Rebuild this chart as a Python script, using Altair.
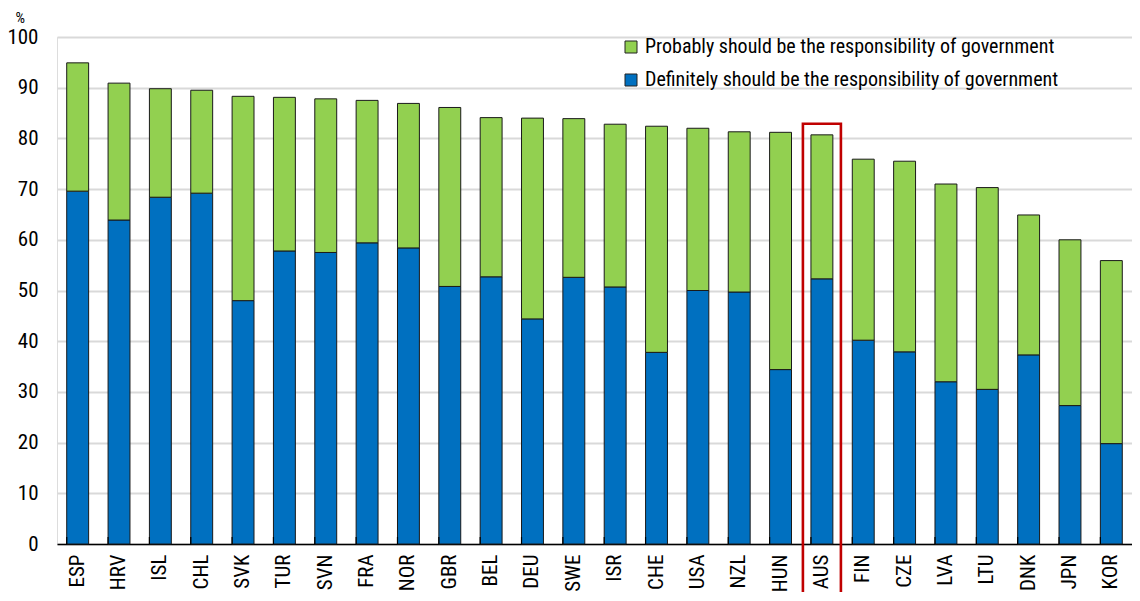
import altair as alt
import pandas as pd

countries = ["ESP", "HRV", "ISL", "CHL", "SVK", "TUR", "SVN", "FRA", "NOR", "GBR",
             "BEL", "DEU", "SWE", "ISR", "CHE", "USA", "NZL", "HUN", "AUS", "FIN",
             "CZE", "LVA", "LTU", "DNK", "JPN", "KOR"]
definitely = [69.6, 63.9, 68.4, 69.2, 48.0, 57.8, 57.5, 59.4, 58.4, 50.8,
              52.7, 44.4, 52.6, 50.7, 37.8, 50.0, 49.7, 34.4, 52.3, 40.2,
              37.9, 32.0, 30.5, 37.3, 27.3, 19.8]
probably = [25.3, 27.0, 21.4, 20.3, 40.3, 30.3, 30.3, 28.1, 28.5, 35.3,
            31.4, 39.6, 31.3, 32.1, 44.6, 32.0, 31.6, 46.8, 28.4, 35.7,
            37.6, 39.0, 39.8, 27.6, 32.7, 36.1]
highlight_country = ["AUS"]
highlight_range = [-12.0, 82.9]

S_PROB = "Probably should be the responsibility of government"
S_DEF = "Definitely should be the responsibility of government"
GREEN = "#92D050"
BLUE = "#0070C0"
FONT = "Roboto Condensed"

rows = []
for c, d, p in zip(countries, definitely, probably):
    rows.append({"country": c, "series": S_DEF, "value": d, "ord": 0})
    rows.append({"country": c, "series": S_PROB, "value": p, "ord": 1})
df = pd.DataFrame(rows)

xscale = alt.Scale(domain=countries, paddingInner=0.47, paddingOuter=0.235)

bars = alt.Chart(df).mark_bar(stroke="#1a1a1a", strokeWidth=1).encode(
    x=alt.X("country:N", sort=countries, scale=xscale,
            axis=alt.Axis(title=None, labelAngle=-90, labelFontSize=21,
                          labelFont=FONT, labelColor="#000", labelPadding=10,
                          ticks=False, domainColor="#000", domainWidth=1.5,
                          labelBaseline="middle", labelAlign="right")),
    y=alt.Y("value:Q", stack="zero",
            scale=alt.Scale(domain=[0, 100], nice=False),
            axis=alt.Axis(title="%", titleAngle=0, titleX=-42, titleY=-15,
                          titleAlign="left", titleBaseline="alphabetic",
                          titleFontSize=15, titleFont=FONT, titleFontWeight="normal",
                          titleColor="#000",
                          values=list(range(0, 101, 10)), labelFontSize=21,
                          labelFont=FONT, labelColor="#000", labelPadding=19,
                          ticks=False, domain=False, gridColor="#D9D9D9",
                          gridWidth=2)),
    color=alt.Color("series:N",
                    scale=alt.Scale(domain=[S_PROB, S_DEF], range=[GREEN, BLUE]),
                    legend=alt.Legend(title=None, orient="none", legendX=564,
                                      legendY=0, symbolType="square",
                                      symbolSize=144, symbolStrokeColor="#222",
                                      symbolStrokeWidth=1, labelFontSize=20,
                                      labelFont=FONT, labelColor="#000",
                                      labelLimit=600, labelOffset=4,
                                      rowPadding=13, padding=0)),
    order=alt.Order("ord:Q"),
)

ticks_df = pd.DataFrame({"country": countries})
tick_rules = alt.Chart(ticks_df).mark_rule(color="#000", strokeWidth=1.2).encode(
    x=alt.X("country:N", sort=countries, scale=xscale, bandPosition=0),
    y=alt.value(507),
    y2=alt.value(500),
)

hl_df = pd.DataFrame({"country": highlight_country,
                      "lo": [highlight_range[0]], "hi": [highlight_range[1]]})
highlight = alt.Chart(hl_df).mark_bar(filled=False, stroke="#C00000",
                                      strokeWidth=2.6, width=38, clip=False).encode(
    x=alt.X("country:N", sort=countries, scale=xscale),
    y=alt.Y("lo:Q"),
    y2="hi:Q",
)

chart = alt.layer(bars, tick_rules, highlight).properties(
    width=1075, height=507,
    autosize=alt.AutoSizeParams(type="none"),
    padding={"left": 49, "top": 29, "right": 0, "bottom": 48},
).configure_view(stroke=None).configure(background="white")

chart.save("out.html", embed_options={"renderer": "svg", "actions": False})
